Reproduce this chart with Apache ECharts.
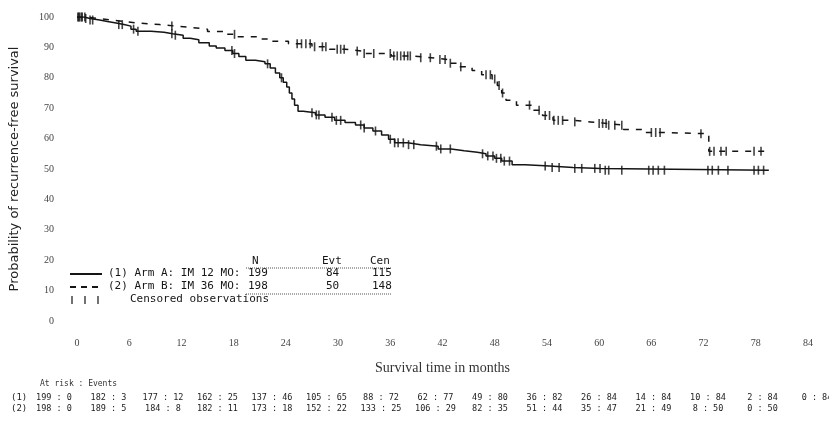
<!DOCTYPE html>
<html><head><meta charset="utf-8">
<script src="https://cdn.jsdelivr.net/npm/echarts@6/dist/echarts.min.js"></script>
<style>html,body{margin:0;padding:0;background:#fff}#c{width:829px;height:430px}</style>
</head><body><div id="c"></div>
<script>
// ---- data ----
const xTicks = [0, 6, 12, 18, 24, 30, 36, 42, 48, 54, 60, 66, 72, 78, 84];
const yTicks = [0, 10, 20, 30, 40, 50, 60, 70, 80, 90, 100];

// Arm A (solid) Kaplan-Meier steps: time (months) and survival (%)
const armATime = [0, 0.8, 1.5, 2.6, 3.5, 4.5, 5.4, 6.2, 6.8, 8.5, 10, 11, 12.2, 13, 14, 15.2, 16, 17, 17.9, 18.6, 19.4, 20.5, 21.6, 22.2, 22.8, 23.3, 23.7, 24.1, 24.4, 24.7, 25, 25.4, 26, 27.4, 28.5, 29.6, 30.8, 32, 33, 34, 35, 35.8, 36.5, 38, 39.5, 41.5, 43, 44.5, 46, 47, 48, 48.8, 50, 51.5, 54.3, 57, 60.2, 79.5];
const armASurv = [100, 99.5, 99, 98.5, 98, 97.5, 97, 96, 95.3, 95, 94.5, 94, 93, 92.5, 91.5, 90.5, 89.8, 89, 88, 87, 85.8, 85.3, 84.6, 83.2, 81.6, 80, 78.5, 77, 75, 73, 71, 69, 68.5, 67.8, 67, 66, 65.3, 64.5, 63.5, 62.5, 61.2, 59.8, 58.6, 58, 57.5, 56.6, 56, 55.5, 55, 54.3, 53.5, 52.6, 51.4, 51, 50.5, 50.2, 49.6, 49.6];
// Arm B (dashed)
const armBTime = [0, 1, 2.5, 4, 5.5, 7, 9.5, 11.4, 13.3, 15, 17, 18.5, 20.9, 22.5, 24.3, 27, 29, 30.8, 32.7, 36.1, 38.4, 40.7, 42.6, 44, 45.4, 46.5, 47.7, 48.3, 48.8, 49.3, 50.5, 52.4, 53.5, 54.7, 57, 59, 60.9, 62.8, 65, 67.2, 72.6, 79];
const armBSurv = [100, 99.5, 99, 98.5, 98, 97.5, 97, 96.5, 96, 95.2, 94.3, 93.5, 92.8, 92, 91.2, 90.2, 89.4, 88.8, 88, 87.2, 86.6, 86, 84.8, 83.6, 82.4, 81, 79.6, 77.5, 75, 72.6, 71, 69.3, 67.6, 66, 65.5, 65, 64.4, 63, 62, 61.6, 55.8, 55.8];

// censored observation times (months)
const armACensor = [0.1, 0.3, 0.6, 1.0, 1.5, 1.8, 4.8, 5.2, 6.5, 7.0, 10.9, 11.3, 17.8, 18.1, 21.9, 23.5, 27.0, 27.5, 27.8, 29.3, 29.8, 30.3, 32.6, 33.0, 34.3, 36.0, 36.5, 36.9, 37.5, 38.1, 38.7, 41.3, 41.8, 42.9, 46.6, 47.2, 47.8, 48.2, 48.7, 49.1, 49.7, 53.8, 54.6, 55.4, 57.2, 58.0, 59.5, 60.1, 60.7, 61.1, 62.6, 65.7, 66.2, 66.8, 67.5, 72.5, 73.0, 73.7, 74.8, 77.8, 78.3, 78.9];
const armBCensor = [0.2, 0.5, 0.9, 10.9, 18.1, 25.3, 25.8, 26.3, 26.8, 27.3, 28.2, 28.6, 29.9, 30.3, 30.7, 32.2, 33.0, 34.1, 36.0, 36.4, 36.8, 37.2, 37.6, 38.0, 38.3, 39.5, 40.6, 41.7, 42.3, 42.9, 44.1, 47.0, 47.5, 48.0, 48.5, 48.9, 52.0, 53.1, 53.8, 54.3, 54.8, 55.3, 55.8, 57.2, 60.0, 60.4, 60.8, 61.1, 61.8, 62.6, 66.0, 66.5, 67.0, 71.7, 72.7, 73.2, 74.0, 74.6, 77.8, 78.6];

// legend table
const armLabels = ['(1) Arm A: IM 12 MO:', '(2) Arm B: IM 36 MO:'];
const armN = [199, 198];
const armEvt = [84, 50];
const armCen = [115, 148];
const legendHeader = ['N', 'Evt', 'Cen'];

// numbers at risk : events
const riskHeader = 'At risk : Events';
const riskA = [199, 182, 177, 162, 137, 105, 88, 62, 49, 36, 26, 14, 10, 2, 0];
const eventsA = [0, 3, 12, 25, 46, 65, 72, 77, 80, 82, 84, 84, 84, 84, 84];
const riskB = [198, 189, 184, 182, 173, 152, 133, 106, 82, 51, 35, 21, 8, 0];
const eventsB = [0, 5, 8, 11, 18, 22, 25, 29, 35, 44, 47, 49, 50, 50];

// ---- chart ----
function zip(a, b) { return a.map((v, i) => [v, b[i]]); }
function stepAt(ts, ss, t) { let v = ss[0]; for (let i = 0; i < ts.length; i++) if (ts[i] <= t) v = ss[i]; return v; }
const ink = '#151515';
const mono = 'DejaVu Sans Mono';

const chart = echarts.init(document.getElementById('c'), null, { renderer: 'canvas' });

const graphics = [];
// legend
const lx = 70, hy = 262, ry = [274, 287], cy = 300;
const colX = [252, 322, 370];
legendHeader.forEach((h, i) => graphics.push({ type: 'text', left: colX[i], top: hy - 6, style: { text: h, font: '11px ' + mono, fill: ink } }));
graphics.push({ type: 'line', shape: { x1: 246, y1: hy + 6, x2: 392, y2: hy + 6 }, style: { stroke: '#555', lineWidth: 1, lineDash: [1, 1] } });
graphics.push({ type: 'line', shape: { x1: 246, y1: ry[1] + 7, x2: 392, y2: ry[1] + 7 }, style: { stroke: '#555', lineWidth: 1, lineDash: [1, 1] } });
armLabels.forEach((lab, k) => {
  graphics.push({ type: 'line', shape: { x1: lx, y1: ry[k], x2: lx + 32, y2: ry[k] }, style: { stroke: ink, lineWidth: 2, lineDash: k ? [6, 5] : null } });
  graphics.push({ type: 'text', left: 108, top: ry[k] - 6, style: { text: lab, font: '11px ' + mono, fill: ink } });
  [armN[k], armEvt[k], armCen[k]].forEach((v, i) => graphics.push({ type: 'text', left: (i === 0 ? 248 : colX[i] + (i === 1 ? 4 : 2)), top: ry[k] - 6, style: { text: String(v), font: '11px ' + mono, fill: ink } }));
});
[72, 85, 98].forEach(x => graphics.push({ type: 'line', shape: { x1: x, y1: cy - 4, x2: x, y2: cy + 4 }, style: { stroke: ink, lineWidth: 1.2 } }));
graphics.push({ type: 'text', left: 130, top: cy - 6, style: { text: 'Censored observations', font: '11px ' + mono, fill: ink } });

// risk table
graphics.push({ type: 'text', left: 40, top: 380, style: { text: riskHeader, font: '8px ' + mono, fill: '#333' } });
[[riskA, eventsA, '(1)', 398], [riskB, eventsB, '(2)', 409]].forEach(([r, e, tag, y]) => {
  graphics.push({ type: 'text', left: 11, top: y - 5, style: { text: tag, font: '9px ' + mono, fill: '#222' } });
  r.forEach((n, i) => graphics.push({ type: 'text', x: 54 + i * 54.5, y: y, style: { text: n + ' : ' + e[i], font: '8.5px ' + mono, fill: '#222', align: 'center', verticalAlign: 'middle' } }));
});

chart.setOption({
  animation: false,
  backgroundColor: '#fff',
  grid: { left: 71, right: 21, top: 17, bottom: 109 },
  xAxis: {
    type: 'value', min: 0, max: 84, interval: 6,
    name: 'Survival time in months', nameLocation: 'middle', nameGap: 40,
    nameTextStyle: { fontFamily: 'Liberation Serif', fontSize: 14, color: '#333' },
    axisLine: { show: false }, axisTick: { show: false }, splitLine: { show: false },
    axisLabel: { margin: 17, fontSize: 10, color: '#444', fontFamily: 'Liberation Serif', customValues: xTicks }
  },
  yAxis: {
    type: 'value', min: 0, max: 100, interval: 10,
    name: 'Probability of recurrence-free survival', nameLocation: 'middle', nameGap: 56, nameRotate: 90,
    nameTextStyle: { fontFamily: 'DejaVu Sans', fontSize: 13, color: '#222' },
    axisLine: { show: false }, axisTick: { show: false }, splitLine: { show: false },
    axisLabel: { margin: 23, fontSize: 10, color: '#444', fontFamily: 'Liberation Serif', customValues: yTicks }
  },
  series: [
    { type: 'line', step: 'end', symbol: 'none', data: zip(armATime, armASurv), lineStyle: { color: ink, width: 1.5 } },
    { type: 'line', step: 'end', symbol: 'none', data: zip(armBTime, armBSurv), lineStyle: { color: ink, width: 1.5, type: [6, 7] } },
    { type: 'scatter', symbol: 'rect', symbolSize: [1.6, 9], itemStyle: { color: ink }, data: armACensor.map(t => [t, stepAt(armATime, armASurv, t)]) },
    { type: 'scatter', symbol: 'rect', symbolSize: [1.6, 9], itemStyle: { color: ink }, data: armBCensor.map(t => [t, stepAt(armBTime, armBSurv, t)]) }
  ],
  graphic: graphics
});
</script>
</body></html>
